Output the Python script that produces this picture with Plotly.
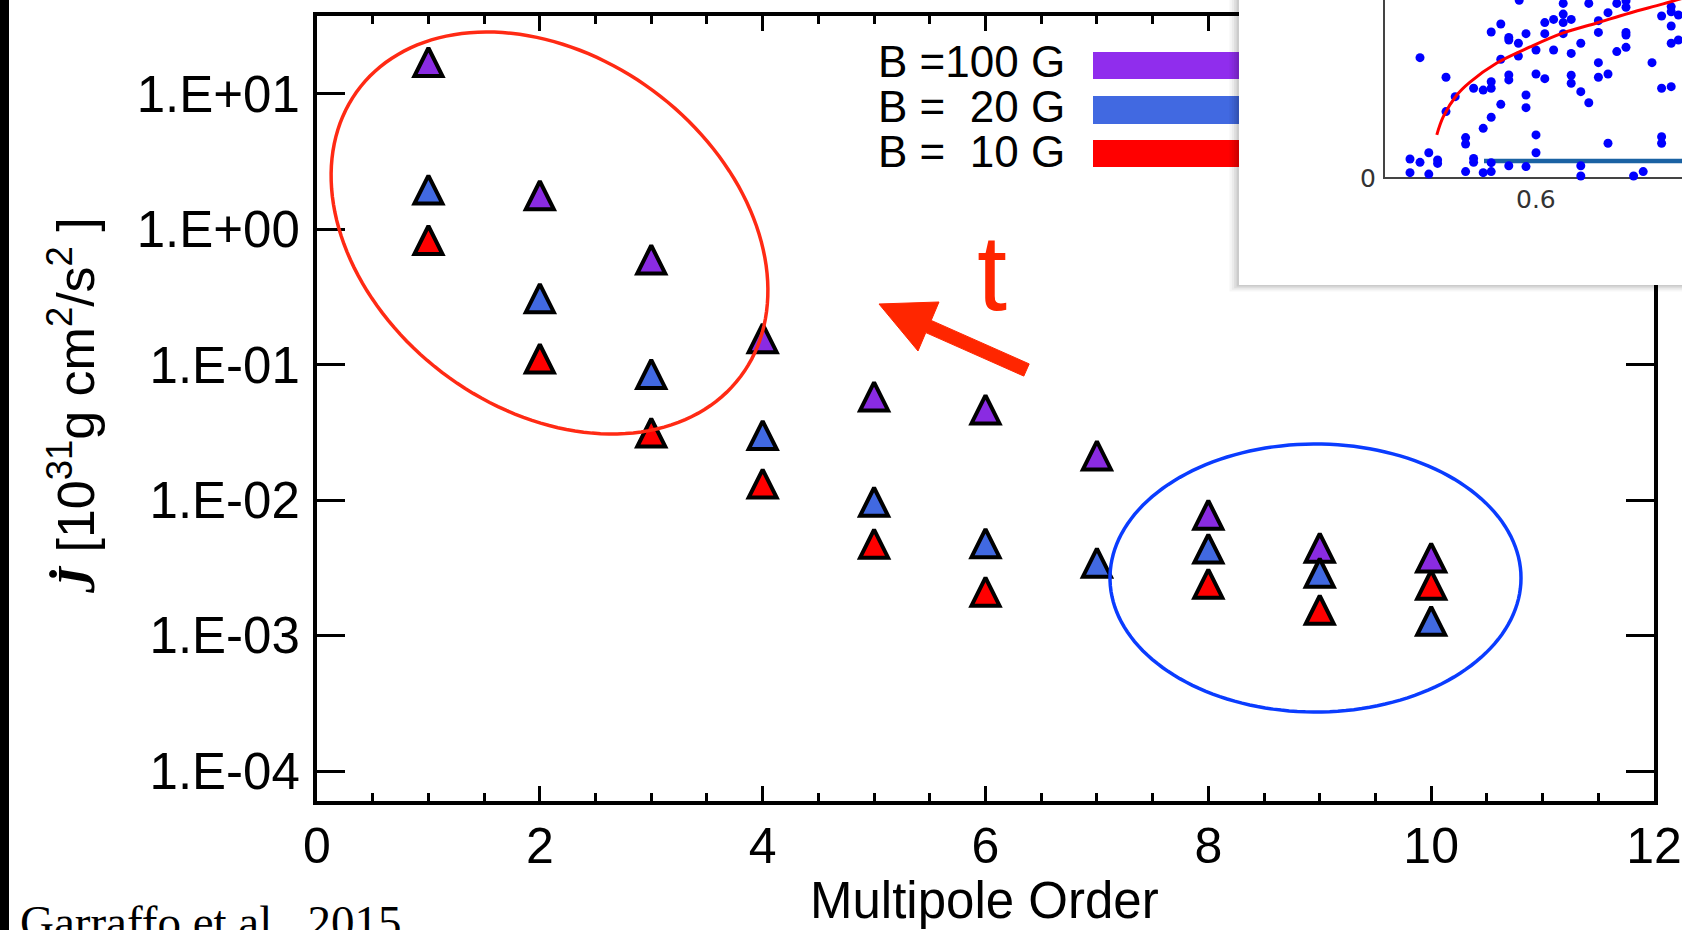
import numpy as np
import plotly.graph_objects as go

# Screen geometry of the reference (1682 x 930); the page body margin is removed
# by a small post-script so the figure fills the window exactly.
W, H = 1682, 930

# ---------------- data ----------------
multipole_order = [1, 2, 3, 4, 5, 6, 7, 8, 9, 10]
j_b100 = [16.1, 1.67, 0.56, 0.147, 0.0546, 0.0437, 0.020, 0.0073, 0.00417, 0.00352]
j_b20 = [1.84, 0.29, 0.080, 0.0283, 0.0091, 0.0045, 0.00323, 0.0041, 0.00272, 0.0012]
j_b10 = [0.78, 0.104, 0.0295, 0.0124, 0.00446, 0.00197, None, 0.00226, 0.00145, 0.00222]

ytick_vals = [1e-4, 1e-3, 1e-2, 1e-1, 1, 10]
ytick_text = ["1.E-04", "1.E-03", "1.E-02", "1.E-01", "1.E+00", "1.E+01"]
xtick_vals = [0, 2, 4, 6, 8, 10, 12]
xtick_text = ["0", "2", "4", "6", "8", "10", "12"]

legend_labels = ["B =100 G", "B =\u00a0\u00a020 G", "B =\u00a0\u00a010 G"]
series_colors = ["#8a2be2", "#4169e1", "#ff0000"]
legend_bar_colors = ["#902ded", "#4169e1", "#ff0000"]

# inset (partially visible scatter plot)
inset_dot_x = [0.455, 0.4875, 0.499, 0.4875, 0.522, 0.534, 0.544, 0.544, 0.556, 0.544,
               0.566, 0.566, 0.578, 0.5875, 0.556, 0.578, 0.566, 0.566, 0.6, 0.611,
               0.622, 0.634, 0.634, 0.644, 0.634, 0.666, 0.611, 0.634, 0.622, 0.644,
               0.656, 0.678, 0.69, 0.701, 0.7125, 0.7125, 0.678, 0.7125, 0.7125, 0.701,
               0.7125, 0.678, 0.678, 0.69, 0.745, 0.757, 0.769, 0.769, 0.769, 0.778,
               0.769, 0.778, 0.757, 0.769, 0.6, 0.611, 0.644, 0.644, 0.656, 0.666,
               0.5875, 0.5875, 0.556, 0.544, 0.534, 0.512, 0.512, 0.6, 0.6, 0.69,
               0.757, 0.757, 0.4425, 0.455, 0.466, 0.477, 0.477, 0.4425, 0.466, 0.512,
               0.522, 0.522, 0.534, 0.544, 0.544, 0.566, 0.5875, 0.656, 0.656, 0.734,
               0.722, 0.579]
inset_dot_y = [0.676, 0.566, 0.457, 0.373, 0.504, 0.494, 0.541, 0.504, 0.865, 0.820,
               0.790, 0.775, 0.757, 0.811, 0.667, 0.685, 0.579, 0.551, 0.719, 0.873,
               0.891, 0.921, 0.873, 0.891, 0.981, 0.981, 0.811, 0.811, 0.719, 0.700,
               0.757, 0.884, 0.929, 0.981, 0.995, 0.959, 0.818, 0.818, 0.803, 0.710,
               0.734, 0.648, 0.566, 0.584, 0.648, 0.910, 0.934, 0.963, 0.854, 0.916,
               0.757, 0.775, 0.504, 0.513, 0.584, 0.558, 0.577, 0.532, 0.485, 0.423,
               0.466, 0.395, 0.414, 0.341, 0.279, 0.227, 0.191, 0.242, 0.142, 0.195,
               0.232, 0.195, 0.107, 0.088, 0.142, 0.101, 0.082, 0.030, 0.022, 0.036,
               0.110, 0.088, 0.030, 0.036, 0.086, 0.069, 0.064, 0.069, 0.011, 0.036,
               0.011, 0.998]
inset_fit_x = [0.476, 0.484, 0.501, 0.5175, 0.551, 0.5925, 0.634, 0.676, 0.7175, 0.759, 0.7925]
inset_fit_y = [0.242, 0.343, 0.466, 0.539, 0.646, 0.736, 0.815, 0.871, 0.927, 0.978, 1.022]
inset_base_x = [0.535, 0.80]
inset_base_y = [0.0955, 0.0955]


# ---------------- helpers (screen pixel -> paper fraction) ----------------
def px(x):
    return x / W


def py(y):
    return 1 - y / H


# inset axes geometry: 800 px per x unit (0.6 at px 1536), 178 px per y unit (0 at px 178)
def ix(p):
    return 0.6 + (p - 1536) / 800.0


def iy(p):
    return (178 - p) / 178.0


def ellipse_path(cx, cy, a, b, theta_deg, n=160):
    t = np.linspace(0, 2 * np.pi, n)
    th = np.radians(theta_deg)
    xs = cx + a * np.cos(t) * np.cos(th) - b * np.sin(t) * np.sin(th)
    ys = cy + a * np.cos(t) * np.sin(th) + b * np.sin(t) * np.cos(th)
    pts = [f"{px(x):.5f},{py(y):.5f}" for x, y in zip(xs, ys)]
    return "M" + " L".join(pts) + " Z"


def poly_path(points):
    pts = [f"{px(x):.5f},{py(y):.5f}" for x, y in points]
    return "M" + " L".join(pts) + " Z"


FONT = "Liberation Sans, Arial, sans-serif"
SERIF = "Liberation Serif, Times New Roman, serif"

fig = go.Figure()

# main series (draw order: red, purple, blue); arrow-down turned 180 deg = upward triangle
marker_common = dict(symbol="arrow-down", angle=180, size=28, standoff=18,
                     line=dict(color="black", width=4))
for vals, col in [(j_b10, series_colors[2]), (j_b100, series_colors[0]), (j_b20, series_colors[1])]:
    fig.add_trace(go.Scatter(x=multipole_order, y=vals, mode="markers",
                             marker=dict(color=col, **marker_common),
                             xaxis="x", yaxis="y", showlegend=False, cliponaxis=False))

# inset traces
fig.add_trace(go.Scatter(x=inset_base_x, y=inset_base_y, mode="lines",
                         line=dict(color="#1a62a3", width=4.5),
                         xaxis="x2", yaxis="y2", showlegend=False))
fig.add_trace(go.Scatter(x=inset_dot_x, y=inset_dot_y, mode="markers",
                         marker=dict(color="#0000ff", size=9, line=dict(width=0)),
                         xaxis="x2", yaxis="y2", showlegend=False))
fig.add_trace(go.Scatter(x=inset_fit_x, y=inset_fit_y, mode="lines", line_shape="spline",
                         line=dict(color="#ff0000", width=3),
                         xaxis="x2", yaxis="y2", showlegend=False))

shapes = []
# legend color bars (below the plot layers; plot bg is transparent)
bar_rows = [(52, 79), (96, 124), (140, 167)]
for (y0, y1), col in zip(bar_rows, legend_bar_colors):
    shapes.append(dict(type="rect", xref="paper", yref="paper", layer="below",
                       x0=px(1093), x1=px(1300), y0=py(y1), y1=py(y0),
                       fillcolor=col, line=dict(width=0)))

# inset shadow + white box (inside x2y2 subplot layer, above main plot)
for i, alpha in enumerate([0.035, 0.045, 0.06, 0.08]):
    k = 4 - i
    shapes.append(dict(type="rect", xref="x2", yref="y2", layer="below",
                       x0=ix(1239 - 2.4 * k), x1=ix(1700), y0=iy(285 + 1.6 * k), y1=iy(-20),
                       fillcolor=f"rgba(0,0,0,{alpha})", line=dict(width=0)))
shapes.append(dict(type="rect", xref="x2", yref="y2", layer="below",
                   x0=ix(1239), x1=ix(1700), y0=iy(285), y1=iy(-20),
                   fillcolor="white", line=dict(width=0)))
# inset spines
shapes.append(dict(type="line", xref="x2", yref="y2", layer="below",
                   x0=ix(1384), x1=ix(1384), y0=0, y1=iy(-20),
                   line=dict(color="#444444", width=2)))
shapes.append(dict(type="line", xref="x2", yref="y2", layer="below",
                   x0=ix(1383), x1=ix(1700), y0=0, y1=0,
                   line=dict(color="#444444", width=2)))

# ellipses and arrow (above the markers)
shapes.append(dict(type="path", xref="paper", yref="paper", layer="above",
                   path=ellipse_path(549.5, 233, 239, 176, 36.9),
                   line=dict(color="#ff2a14", width=3.5)))
shapes.append(dict(type="path", xref="paper", yref="paper", layer="above",
                   path=ellipse_path(1315.5, 578, 205.5, 134, 0),
                   line=dict(color="#0a3cff", width=3.5)))
arrow_pts = [(879, 304), (939, 302), (931.2, 320.4), (1029.2, 363.9),
             (1023.8, 376.1), (925.8, 332.6), (918, 351)]
shapes.append(dict(type="path", xref="paper", yref="paper", layer="above",
                   path=poly_path(arrow_pts), fillcolor="#ff2600",
                   line=dict(color="#ff2600", width=1)))
# black strip on the left edge
shapes.append(dict(type="rect", xref="paper", yref="paper", layer="above",
                   x0=0, x1=px(9), y0=0, y1=1, fillcolor="black", line=dict(width=0)))

annotations = []
for lab, yc in zip(legend_labels, [62, 107, 151]):
    annotations.append(dict(text=lab, xref="paper", yref="paper", x=px(876), y=py(yc),
                            xanchor="left", yanchor="middle", showarrow=False,
                            font=dict(family=FONT, size=44, color="black")))
annotations.append(dict(text="t", xref="paper", yref="paper", x=px(992), y=py(272),
                        xanchor="center", yanchor="middle", showarrow=False,
                        font=dict(family=FONT, size=108, color="#ff2600")))
annotations.append(dict(text="Multipole Order", xref="paper", yref="paper", x=px(984), y=py(900),
                        xanchor="center", yanchor="middle", showarrow=False,
                        font=dict(family=FONT, size=51, color="black")))
annotations.append(dict(text="Garraffo et al., 2015", xref="paper", yref="paper", x=px(18), y=py(922),
                        xanchor="left", yanchor="middle", showarrow=False,
                        font=dict(family=SERIF, size=47, color="black")))
annotations.append(dict(
    text="<span style='font-family:Liberation Serif'><b><i>J\u0307</i></b></span> [10<sup>31</sup>g cm<sup>2</sup>/s<sup>2</sup> ]",
    xref="paper", yref="paper", x=px(72), y=py(406), textangle=-90,
    xanchor="center", yanchor="middle", showarrow=False,
    font=dict(family=FONT, size=52, color="black")))
# inset tick labels
annotations.append(dict(text="0", xref="x2", yref="y2", x=ix(1368), y=0,
                        xanchor="center", yanchor="middle", showarrow=False,
                        font=dict(family="DejaVu Sans", size=25, color="#333333")))
annotations.append(dict(text="0.6", xref="x2", yref="y2", x=0.6, y=iy(199),
                        xanchor="center", yanchor="middle", showarrow=False,
                        font=dict(family="DejaVu Sans", size=25, color="#333333")))

fig.update_layout(
    width=W, height=H, autosize=False,
    margin=dict(l=0, r=0, t=0, b=0, autoexpand=False),
    paper_bgcolor="white", plot_bgcolor="rgba(0,0,0,0)",
    showlegend=False,
    xaxis=dict(domain=[px(317), px(1654)], range=[0, 12], anchor="y",
               tickvals=xtick_vals, ticktext=xtick_text,
               ticks="inside", ticklen=15, tickwidth=3, tickcolor="black",
               minor=dict(dtick=0.5, ticks="inside", ticklen=8, tickwidth=3, tickcolor="black", showgrid=False),
               showline=True, linecolor="black", linewidth=4, mirror="ticks",
               showgrid=False, zeroline=False, ticklabelstandoff=-2, automargin=False,
               ticklabeloverflow="allow",
               tickfont=dict(family=FONT, size=50, color="black")),
    yaxis=dict(domain=[py(801), py(16)], type="log", range=[-4.2216, 1.576], anchor="x",
               tickvals=ytick_vals, ticktext=ytick_text,
               ticks="inside", ticklen=28, tickwidth=3, tickcolor="black",
               showline=True, linecolor="black", linewidth=4, mirror="ticks",
               showgrid=False, zeroline=False, ticklabelstandoff=3, automargin=False,
               ticklabeloverflow="allow",
               tickfont=dict(family=FONT, size=51, color="black")),
    xaxis2=dict(domain=[px(1229), 1], range=[ix(1229), ix(W)], anchor="y2",
                visible=False, showgrid=False, zeroline=False, fixedrange=True),
    yaxis2=dict(domain=[py(292), 1], range=[iy(292), iy(0)], anchor="x2",
                visible=False, showgrid=False, zeroline=False, fixedrange=True),
    shapes=shapes,
    annotations=annotations,
)

fig.write_html(
    "out.html",
    config={"displayModeBar": False, "staticPlot": True},
    post_script="document.body.style.margin='0';document.body.style.overflow='hidden';",
)
